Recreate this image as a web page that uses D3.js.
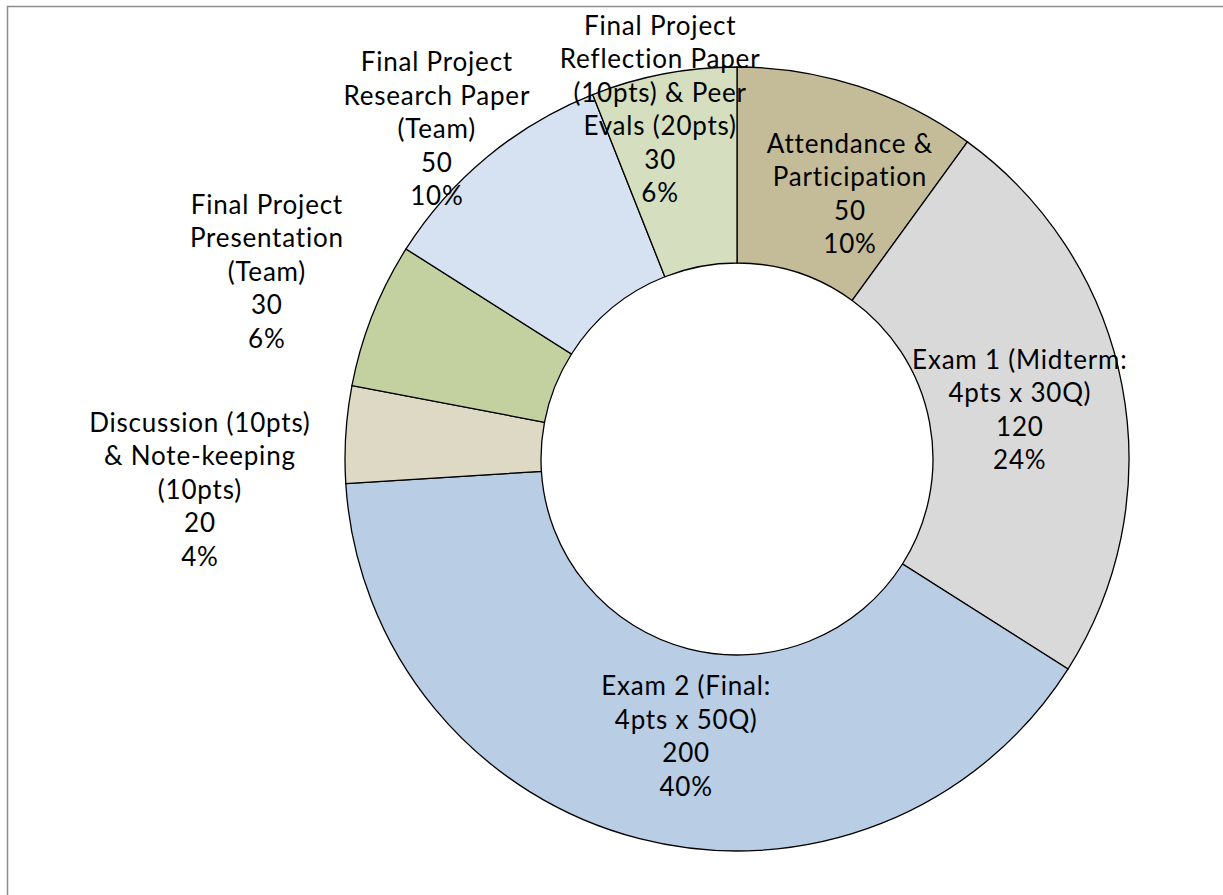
<!DOCTYPE html>
<meta charset="utf-8">
<style>
  body { margin: 0; background: #fff; }
  .slices path { stroke: #000; stroke-width: 1.3px; }
  .labels text { font-family: Lato, "Open Sans", sans-serif; font-size: 26px; letter-spacing: 0.8px; fill: #000; }
</style>
<body>
<svg width="1223" height="895"></svg>
<script src="https://d3js.org/d3.v7.min.js"></script>
<script>

// grading components, clockwise from 12 o'clock
var categories = [
  ["Attendance &", "Participation"],
  ["Exam 1 (Midterm:", "4pts x 30Q)"],
  ["Exam 2 (Final:", "4pts x 50Q)"],
  ["Discussion (10pts)", "& Note-keeping", "(10pts)"],
  ["Final Project", "Presentation", "(Team)"],
  ["Final Project", "Research Paper", "(Team)"],
  ["Final Project", "Reflection Paper", "(10pts) & Peer", "Evals (20pts)"]
];
var points = [50, 120, 200, 20, 30, 50, 30];
var colors = ["#C4BC98", "#D9D9D9", "#B9CDE5", "#DDD9C4", "#C3D09F", "#D6E1F1", "#D5DFBF"];

// label block centre: [radius, angle shift from slice middle in deg]
var labelPlace = [[288, 5.1], [287, 1.0], [282, -4.0], [538, -6.9], [506, 0.1], [446, -2.7], [358, -1.6]];

var svg = d3.select("svg"),
    cx = 737, cy = 459,
    outerR = 392, innerR = 196,
    lineH = 33.5;

svg.append("rect")
    .attr("x", 7.5).attr("y", 6.5)
    .attr("width", 1300).attr("height", 1000)
    .attr("fill", "none")
    .attr("stroke", "#8c8c8c")
    .attr("stroke-width", 1.5);

var total = d3.sum(points);

var pie = d3.pie().sort(null).value(function(d) { return d; });
var arcs = pie(points);

var arc = d3.arc().innerRadius(innerR).outerRadius(outerR);

var g = svg.append("g").attr("transform", "translate(" + cx + "," + cy + ")");

g.append("g").attr("class", "slices")
  .selectAll("path")
  .data(arcs)
  .enter().append("path")
    .attr("d", arc)
    .style("fill", function(d, i) { return colors[i]; });

var pct = d3.format(".0%");

var labels = g.append("g").attr("class", "labels")
  .selectAll("text")
  .data(arcs)
  .enter().append("text")
    .attr("text-anchor", "middle")
    .attr("transform", function(d, i) {
      var a = (d.startAngle + d.endAngle) / 2 + labelPlace[i][1] * Math.PI / 180;
      var r = labelPlace[i][0];
      return "translate(" + (r * Math.sin(a)) + "," + (-r * Math.cos(a)) + ")";
    });

labels.each(function(d, i) {
  var lines = categories[i].concat([String(points[i]), pct(points[i] / total)]);
  var t = d3.select(this);
  var y0 = -(lines.length - 1) * lineH / 2 + 9;
  lines.forEach(function(s, k) {
    t.append("tspan").attr("x", 0).attr("y", y0 + k * lineH).text(s);
  });
});

</script>
</body>
</html>
